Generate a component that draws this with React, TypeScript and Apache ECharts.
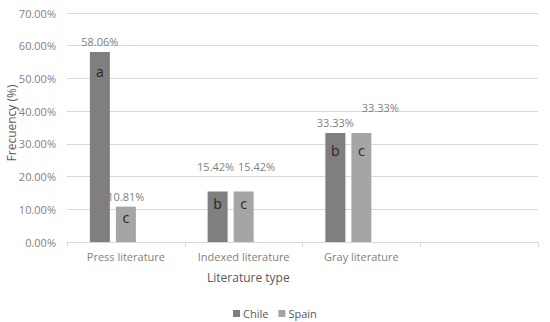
import React, { useEffect, useRef } from "react";
import * as echarts from "echarts";

const categories = ["Press literature", "Indexed literature", "Gray literature", ""];
const chileValues = [58.06, 15.42, 33.33, null];
const spainValues = [10.81, 15.42, 33.33, null];
const emptyValues = [0, 0, 0, 0];
const chileLetters = ["a", "b", "b", ""];
const spainLetters = ["c", "c", "c", ""];
const yTicks = [0, 10, 20, 30, 40, 50, 60, 70];

// label style tweaks (offsets in px)
const chilePctOffsets = [[0, 0], [-2, -15], [0, 0], [0, 0]];
const spainPctOffsets = [[0, 0], [13, -15], [19, -15], [0, 0]];
const chileLetterDist = [12, 5, 11, 0];
const spainLetterDist = [4, 5, 11, 0];

const FONT = "'Open Sans', sans-serif";
const CHILE = "#7f7f7f";
const SPAIN = "#a5a5a5";

export default function App() {
  const ref = useRef<HTMLDivElement>(null);
  useEffect(() => {
    if (!ref.current) return;
    const chart = echarts.init(ref.current, undefined, { renderer: "svg" });
    const pct = (vals: (number | null)[], offs: number[][]) =>
      vals.map((v, i) => ({ value: v, label: { offset: offs[i] } }));
    const letters = (vals: (number | null)[], ls: string[], d: number[]) =>
      vals.map((v, i) => ({ value: v, label: { distance: d[i], formatter: ls[i] } }));
    const pctLabel = {
      show: true,
      position: "top",
      distance: 5,
      color: "#7f7f7f",
      fontFamily: FONT,
      fontSize: 11,
      formatter: (p: any) => (p.value == null ? "" : p.value.toFixed(2) + "%"),
    };
    const letterLabel = {
      show: true,
      position: "insideTop",
      color: "#262626",
      fontFamily: FONT,
      fontSize: 14,
    };
    const bar = { type: "bar", barWidth: 20, barGap: "30%" };
    chart.setOption({
      animation: false,
      textStyle: { fontFamily: FONT },
      grid: { left: 67, right: 12, top: 13, bottom: 80, containLabel: false, outerBoundsMode: "none" },
      legend: {
        data: ["Chile", "Spain"],
        left: 228,
        top: 303,
        itemWidth: 7,
        itemHeight: 7,
        itemGap: 10,
        icon: "rect",
        textStyle: { color: "#595959", fontSize: 11, fontFamily: FONT, padding: [0, 0, 0, -2] },
      },
      graphic: [
        {
          type: "text",
          left: 207,
          top: 271,
          style: { text: "Literature type", fill: "#595959", fontSize: 12, fontFamily: FONT },
        },
        {
          type: "text",
          x: 11,
          y: 123,
          rotation: Math.PI / 2,
          style: {
            text: "Frecuency (%)",
            fill: "#595959",
            fontSize: 12,
            fontFamily: FONT,
            align: "center",
            verticalAlign: "middle",
          },
        },
      ],
      xAxis: [
        {
          type: "category",
          data: categories,
          axisLine: { lineStyle: { color: "#d9d9d9" } },
          axisTick: { show: true, length: 5, lineStyle: { color: "#d9d9d9" } },
          axisLabel: { color: "#7f7f7f", fontSize: 11, fontFamily: FONT, margin: 9, interval: 0 },
        },
        { type: "category", data: categories, show: false },
      ],
      yAxis: {
        type: "value",
        min: 0,
        max: 70,
        interval: 10,
        axisLine: { show: false },
        axisTick: { show: false },
        splitLine: { lineStyle: { color: "#d9d9d9" } },
        axisLabel: {
          color: "#7f7f7f",
          fontSize: 11,
          fontFamily: FONT,
          margin: 11,
          formatter: (v: number) => (yTicks.includes(v) ? v.toFixed(2) + "%" : ""),
        },
      },
      series: [
        { ...bar, name: "Chile", data: pct(chileValues, chilePctOffsets), itemStyle: { color: CHILE }, label: pctLabel },
        { ...bar, name: "Spain", data: pct(spainValues, spainPctOffsets), itemStyle: { color: SPAIN }, label: pctLabel },
        { ...bar, name: "empty", data: emptyValues, itemStyle: { color: "rgba(0,0,0,0)" } },
        {
          ...bar,
          name: "ChileLetters",
          xAxisIndex: 1,
          data: letters(chileValues, chileLetters, chileLetterDist),
          itemStyle: { color: "rgba(0,0,0,0)" },
          label: letterLabel,
          silent: true,
        },
        {
          ...bar,
          name: "SpainLetters",
          xAxisIndex: 1,
          data: letters(spainValues, spainLetters, spainLetterDist),
          itemStyle: { color: "rgba(0,0,0,0)" },
          label: letterLabel,
          silent: true,
        },
        { ...bar, name: "emptyLetters", xAxisIndex: 1, data: emptyValues, itemStyle: { color: "rgba(0,0,0,0)" }, silent: true },
      ],
    });
    return () => chart.dispose();
  }, []);
  return <div ref={ref} style={{ position: "absolute", left: 0, top: 0, width: 550, height: 322 }} />;
}
